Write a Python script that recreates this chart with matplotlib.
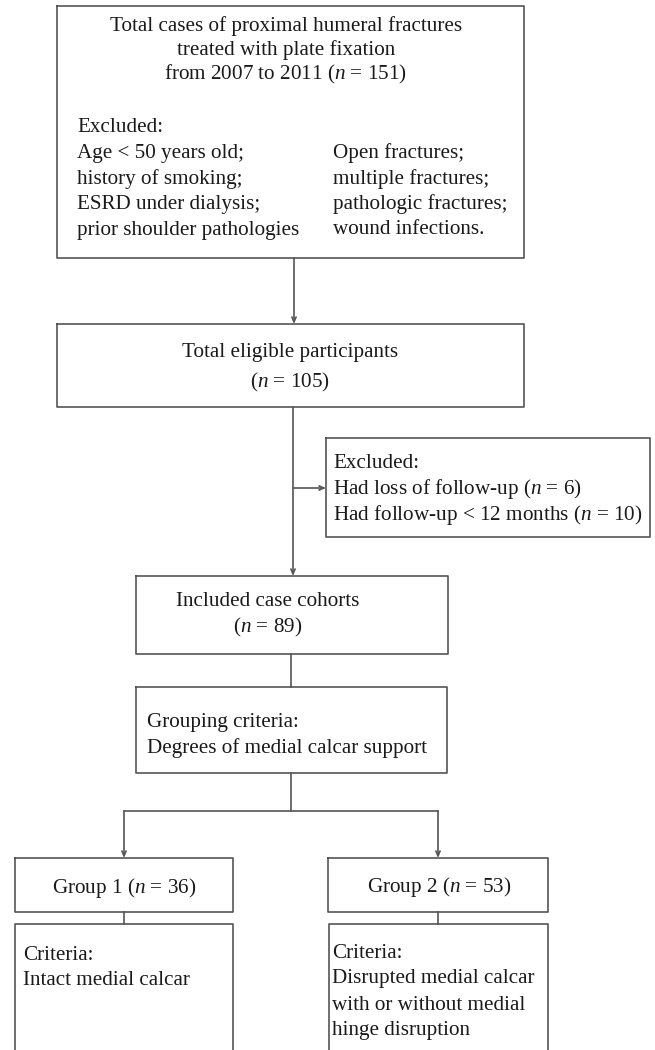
import matplotlib
matplotlib.use("Agg")
import matplotlib.pyplot as plt

plt.rcParams['font.family'] = 'Liberation Serif'
plt.rcParams['mathtext.fontset'] = 'custom'
plt.rcParams['mathtext.rm'] = 'Liberation Serif'
plt.rcParams['mathtext.it'] = 'Liberation Serif:italic'

# counts in the flow
n_total = 151
n_eligible = 105
n_lost = 6
n_short = 10
n_included = 89
n_group1 = 36
n_group2 = 53

excluded_left = ["Excluded:", "Age < 50 years old;", "history of smoking;",
                 "ESRD under dialysis;", "prior shoulder pathologies"]
excluded_right = ["Open fractures;", "multiple fractures;",
                  "pathologic fractures;", "wound infections."]
criteria1 = ["Criteria:", "Intact medial calcar"]
criteria2 = ["Criteria:", "Disrupted medial calcar",
             "with or without medial", "hinge disruption"]

W, H = 655, 1050
fig = plt.figure(figsize=(W / 100, H / 100), dpi=100)
ax = fig.add_axes([0, 0, 1, 1])
ax.set_xlim(0, W)
ax.set_ylim(H, 0)
ax.axis('off')

ec = '#555555'
lw = 1.2
fs = 15.2


def box(x0, y0, x1, y1, open_bottom=False):
    if open_bottom:
        ax.plot([x0, x0, x1, x1], [y1, y0, y0, y1], color=ec, lw=lw)
    else:
        ax.plot([x0, x1, x1, x0, x0], [y0, y0, y1, y1, y0], color=ec, lw=lw)


def line(xs, ys):
    ax.plot(xs, ys, color=ec, lw=lw)


def arrow(x0, y0, x1, y1):
    ax.annotate('', xy=(x1, y1), xytext=(x0, y0),
                arrowprops=dict(arrowstyle='->,head_length=0.35,head_width=0.15',
                                color=ec, lw=lw, shrinkA=0, shrinkB=0))


def txt(x, y, s, ha='center'):
    ax.text(x, y, s, ha=ha, va='center', fontsize=fs, color='#1a1a1a')


# box 1
box(57, 6, 524, 258)
txt(286, 26, "Total cases of proximal humeral fractures")
txt(286, 50, "treated with plate fixation")
txt(286, 74, "from 2007 to 2011 ($n$ = %d)" % n_total)
for i, s in enumerate(excluded_left):
    txt(77, 128 + i * 25.5, s, ha='left')
for i, s in enumerate(excluded_right):
    txt(333, 153.5 + i * 25.5, s, ha='left')

arrow(294, 258, 294, 324)

# box 2
box(57, 324, 524, 407)
txt(290, 353, "Total eligible participants")
txt(290, 382, "($n$ = %d)" % n_eligible)

# excluded side box
arrow(293, 407, 293, 576)
arrow(293, 488, 326, 488)
box(326, 438, 650, 537)
txt(333, 463, "Excluded:", ha='left')
txt(333, 489, "Had loss of follow-up ($n$ = %d)" % n_lost, ha='left')
txt(333, 515, "Had follow-up < 12 months ($n$ = %d)" % n_short, ha='left')

# included
box(136, 576, 448, 654)
txt(268, 602, "Included case cohorts")
txt(268, 627, "($n$ = %d)" % n_included)

line([291, 291], [654, 687])

# grouping
box(136, 687, 447, 773)
txt(147, 723, "Grouping criteria:", ha='left')
txt(147, 748, "Degrees of medial calcar support", ha='left')

line([291, 291], [773, 811])
line([124, 438], [811, 811])
arrow(124, 811, 124, 858)
arrow(438, 811, 438, 858)

# groups
box(15, 858, 233, 912)
txt(124, 888, "Group 1 ($n$ = %d)" % n_group1)
box(328, 858, 548, 912)
txt(439, 887, "Group 2 ($n$ = %d)" % n_group2)

line([124, 124], [912, 924])
line([438, 438], [912, 924])

box(15, 924, 233, 1052, open_bottom=True)
for i, s in enumerate(criteria1):
    txt(23, 955 + i * 25.5, s, ha='left')
box(329, 924, 548, 1052, open_bottom=True)
for i, s in enumerate(criteria2):
    txt(332, 953 + i * 26, s, ha='left')

fig.savefig("out.png", dpi=100)
